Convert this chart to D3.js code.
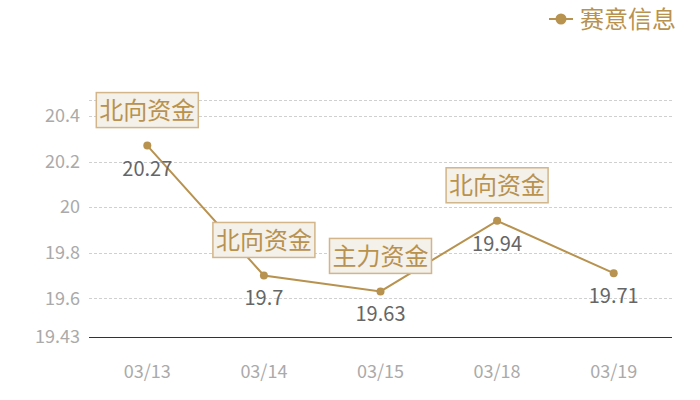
<!DOCTYPE html>
<html>
<head>
<meta charset="utf-8">
<script src="https://cdn.jsdelivr.net/npm/d3@7"></script>
<style>
  body { margin: 0; background: #fff; }
  svg { font-family: "Noto Sans CJK SC", "Noto Sans", sans-serif; }
</style>
</head>
<body>
<div id="chart"></div>
<script>
// chart data
const dates = ['03/13', '03/14', '03/15', '03/18', '03/19'];
const prices = [20.27, 19.7, 19.63, 19.94, 19.71];
const notes = ['北向资金', '北向资金', '主力资金', '北向资金', null];
const yTicks = [19.6, 19.8, 20, 20.2, 20.4];
const seriesName = '赛意信息';

const width = 700;
const height = 400;
const margin = { top: 100, right: 28, bottom: 63, left: 89 };
const gold = '#b8924f';

const svg = d3.select('#chart')
  .append('svg')
  .attr('width', width)
  .attr('height', height);

const yMin = d3.min(prices) - 0.2;
const yMax = d3.max(prices) + 0.2;

const xScale = d3.scaleBand()
  .domain(dates)
  .range([margin.left, width - margin.right]);

const yScale = d3.scaleLinear()
  .domain([yMin, yMax])
  .range([height - margin.bottom, margin.top]);

const cx = (d) => xScale(d) + xScale.bandwidth() / 2;

// gridlines (dashed), including the top one
const gridVals = yTicks.concat([yMax]);
svg.append('g')
  .selectAll('line')
  .data(gridVals)
  .join('line')
  .attr('x1', margin.left)
  .attr('x2', width - margin.right)
  .attr('y1', (d) => Math.round(yScale(d)) + 0.5)
  .attr('y2', (d) => Math.round(yScale(d)) + 0.5)
  .attr('stroke', '#d0d0d0')
  .attr('stroke-dasharray', '3,2');

// y labels
const yLabels = yTicks.concat([yMin]);
svg.append('g')
  .selectAll('text')
  .data(yLabels)
  .join('text')
  .attr('x', margin.left - 9)
  .attr('y', (d) => yScale(d))
  .attr('dy', '0.35em')
  .attr('text-anchor', 'end')
  .attr('fill', '#aaaaaa')
  .attr('font-size', 18)
  .text((d) => d3.format('~g')(+d.toFixed(2)));

// x axis line
const axisY = Math.round(yScale(yMin)) + 0.5;
svg.append('line')
  .attr('x1', margin.left)
  .attr('x2', width - margin.right)
  .attr('y1', axisY)
  .attr('y2', axisY)
  .attr('stroke', '#333')
  .attr('stroke-width', 1);

// x labels
svg.append('g')
  .selectAll('text')
  .data(dates)
  .join('text')
  .attr('x', (d) => cx(d))
  .attr('y', yScale(yMin) + 35)
  .attr('dy', '0.35em')
  .attr('text-anchor', 'middle')
  .attr('fill', '#aaaaaa')
  .attr('font-size', 18)
  .text((d) => d);

// line
const line = d3.line()
  .x((d, i) => cx(dates[i]))
  .y((d) => yScale(d));

svg.append('path')
  .datum(prices)
  .attr('d', line)
  .attr('fill', 'none')
  .attr('stroke', gold)
  .attr('stroke-width', 2);

// points
svg.append('g')
  .selectAll('circle')
  .data(prices)
  .join('circle')
  .attr('cx', (d, i) => cx(dates[i]))
  .attr('cy', (d) => yScale(d))
  .attr('r', 4)
  .attr('fill', gold);

// value labels
svg.append('g')
  .selectAll('text')
  .data(prices)
  .join('text')
  .attr('x', (d, i) => cx(dates[i]))
  .attr('y', (d) => yScale(d) + 23)
  .attr('dy', '0.35em')
  .attr('text-anchor', 'middle')
  .attr('fill', '#666')
  .attr('font-size', 20)
  .text((d) => d);

// annotation boxes
const noteData = prices.map((p, i) => ({ p, date: dates[i], note: notes[i] }))
  .filter((d) => d.note);

const boxW = 102, boxH = 35;
const notesG = svg.append('g')
  .selectAll('g')
  .data(noteData)
  .join('g')
  .attr('transform', (d) => `translate(${cx(d.date) - boxW / 2}, ${yScale(d.p) - 18 - boxH})`);

notesG.append('rect')
  .attr('width', boxW)
  .attr('height', boxH)
  .attr('fill', '#f4f0ea')
  .attr('stroke', '#d2b589')
  .attr('stroke-width', 1.5);

notesG.append('text')
  .attr('x', boxW / 2)
  .attr('y', boxH / 2)
  .attr('dy', '0.36em')
  .attr('text-anchor', 'middle')
  .attr('fill', gold)
  .attr('font-size', 24)
  .text((d) => d.note);

// legend
const legend = svg.append('g').attr('transform', 'translate(549, 19)');
legend.append('line')
  .attr('x1', 0).attr('x2', 24)
  .attr('stroke', gold).attr('stroke-width', 2);
legend.append('circle')
  .attr('cx', 12).attr('r', 5.5)
  .attr('fill', gold);
legend.append('text')
  .attr('x', 31)
  .attr('dy', '0.36em')
  .attr('fill', gold)
  .attr('font-size', 24)
  .text(seriesName);
</script>
</body>
</html>
